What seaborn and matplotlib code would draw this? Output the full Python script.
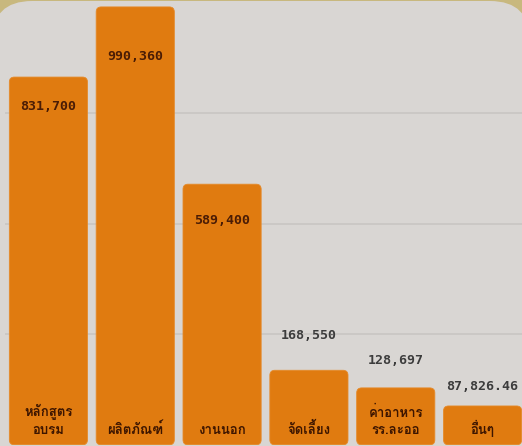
import matplotlib
matplotlib.use("Agg")
import matplotlib.pyplot as plt
from matplotlib import font_manager
from matplotlib.patches import FancyBboxPatch
from matplotlib.transforms import IdentityTransform
from fontTools.ttLib import TTFont
import pandas as pd
import seaborn as sns

# Spending categories (two-line labels use "\n") and their amounts in baht
categories = ["หลักสูตร\nอบรม", "ผลิตภัณฑ์", "งานนอก", "จัดเลี้ยง", "ค่าอาหาร\nรร.ละออ", "อื่นๆ"]
amounts = [831700, 990360, 589400, 168550, 128697, 87826.46]
amount_labels = ["831,700", "990,360", "589,400", "168,550", "128,697", "87,826.46"]


def thai_family():
    """Pick an installed family that covers Thai script."""
    preferred = ["Tahoma", "Loma", "Garuda", "Noto Sans Thai", "Sarabun",
                 "Noto Sans Thai Looped", "Kanit", "Prompt", "Bai Jamjuree"]
    covered = set()
    for f in font_manager.fontManager.ttflist:
        try:
            cmap = TTFont(f.fname, fontNumber=0, lazy=True).getBestCmap()
            if cmap and 0x0E2B in cmap:
                covered.add(f.name)
        except Exception:
            pass
    for name in preferred:
        if name in covered:
            return name
    return sorted(covered)[0] if covered else "DejaVu Sans"


sns.set_theme(style="white")
THAI = thai_family()
plt.rcParams["font.family"] = [THAI, "DejaVu Sans"]

W, H, DPI = 522, 446, 100
fig = plt.figure(figsize=(W / DPI, H / DPI), dpi=DPI)
fig.patch.set_facecolor("#c8b87e")

# Light rounded panel behind the chart
panel = FancyBboxPatch((-8, -40), W + 16, H + 40 - 1,
                       boxstyle="round,pad=0,rounding_size=40",
                       transform=IdentityTransform(), facecolor="#d9d6d3",
                       edgecolor="none", zorder=0)
fig.add_artist(panel)

# Axes spans 0..~1,006,000 over the full height
ax = fig.add_axes([5 / W, 1.2 / H, 521 / W, 444.8 / H])
ax.set_facecolor("none")

BAR = "#e07b10"
df = pd.DataFrame({"category": categories, "amount": amounts})
sns.barplot(data=df, x="category", y="amount", color=BAR,
            width=0.9, saturation=1, ax=ax, zorder=2)
ax.set_ylim(0, 1006000)
ax.set_xlim(-0.5, 5.5)

# Replace square bars with rounded ones of the same geometry
x_px = 521 / 6.0              # pixels per x unit
y_px = 444.8 / 1006000        # pixels per y unit
r = 5.0 / x_px
aspect = (5.0 / y_px) / r
for p in list(ax.patches):
    x, y0 = p.get_x(), p.get_y()
    w, h = p.get_width(), p.get_height()
    rb = FancyBboxPatch((x, y0), w, h,
                        boxstyle=f"round,pad=0,rounding_size={r}",
                        mutation_aspect=aspect, facecolor=BAR,
                        edgecolor="#e58a2a", linewidth=0.6, zorder=2)
    p.remove()
    ax.add_patch(rb)

# Horizontal guide lines
for gy in [250000, 500000, 750000]:
    ax.axhline(gy, color="#c9c6c3", linewidth=1.2, zorder=1)

# Amount labels: inside tall bars, above short ones (pixel offsets from bar top)
label_offsets = [-29, -50, -36, 35, 27, 19]
for i, (v, lab, off) in enumerate(zip(amounts, amount_labels, label_offsets)):
    inside = off < 0
    ax.annotate(lab, (i, v), xytext=(0, off), textcoords="offset pixels",
                ha="center", va="center", fontsize=9.5, fontweight="bold",
                family="DejaVu Sans Mono",
                color="#4a1c05" if inside else "#3c3c3c", zorder=3)

# Category names at the foot of each bar
for i, cat in enumerate(categories):
    ax.annotate(cat, (i, 0), xytext=(0, 8), textcoords="offset pixels",
                ha="center", va="bottom", fontsize=9.5, fontweight="bold",
                linespacing=1.5, color="#3d1500", zorder=3)

ax.set_xlabel("")
ax.set_ylabel("")
ax.set_xticks([])
ax.set_yticks([])
for s in ax.spines.values():
    s.set_visible(False)

fig.savefig("out.png", dpi=DPI, facecolor=fig.get_facecolor())
